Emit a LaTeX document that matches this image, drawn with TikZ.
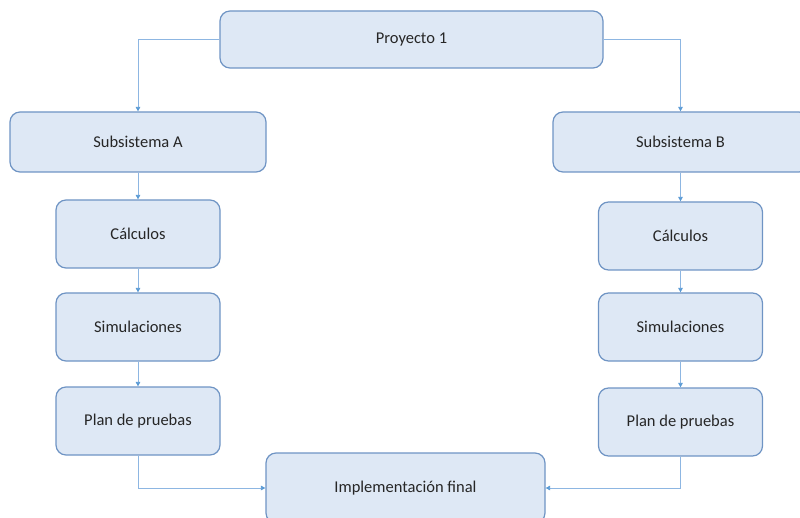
\documentclass[tikz,border=0pt]{standalone}
\usepackage{fontspec}
\setmainfont{Carlito}
\usetikzlibrary{arrows.meta}
\definecolor{boxfill}{HTML}{DEE8F5}
\definecolor{boxline}{HTML}{6F94C4}
\definecolor{linkline}{HTML}{8DB6E2}
\definecolor{tipcol}{HTML}{5B9BD5}
\definecolor{txt}{HTML}{262626}
\tikzset{
  stepbox/.style={draw=boxline, line width=1.2pt, fill=boxfill, rounded corners=10pt,
    text=txt, font=\fontsize{16.5}{20}\selectfont, inner sep=0pt, anchor=center},
  link/.style={draw=linkline, line width=0.8pt,
    -{Triangle[length=4.5pt,width=4.5pt,color=tipcol]}}
}
\begin{document}
\begin{tikzpicture}[x=1pt,y=-1pt]
\useasboundingbox (0,0) rectangle (800,518);
\begin{scope}
\clip (0,0) rectangle (800,518);
% top level
\node[stepbox, minimum width=383pt, minimum height=57pt] (proj) at (411.5,39.5) {Proyecto 1};
% subsystems
\node[stepbox, minimum width=256pt, minimum height=60pt] (subA) at (138,142) {Subsistema A};
\node[stepbox, minimum width=256pt, minimum height=60pt] (subB) at (681,142) {};
\node[text=txt, font=\fontsize{16.5}{20}\selectfont] (subBt) at (680.5,142) {Subsistema B};
% left chain
\node[stepbox, minimum width=164pt, minimum height=68pt] (calA) at (138,234) {Cálculos};
\node[stepbox, minimum width=164pt, minimum height=68pt] (simA) at (138,327) {Simulaciones};
\node[stepbox, minimum width=164pt, minimum height=68pt] (plaA) at (138,421) {Plan de pruebas};
% right chain
\node[stepbox, minimum width=164pt, minimum height=68pt] (calB) at (680.5,236) {Cálculos};
\node[stepbox, minimum width=164pt, minimum height=68pt] (simB) at (680.5,327) {Simulaciones};
\node[stepbox, minimum width=164pt, minimum height=68pt] (plaB) at (680.5,422) {Plan de pruebas};
% final step
\node[stepbox, minimum width=279pt, minimum height=70pt] (impl) at (405.5,488) {Implementación final};
\end{scope}
% connectors
\draw[link] (proj.west) -| (subA.north);
\draw[link] (proj.east) -| (subBt.north |- subB.north);
\draw[link] (subA.south) -- (calA.north);
\draw[link] (calA.south) -- (simA.north);
\draw[link] (simA.south) -- (plaA.north);
\draw[link] (subBt.south |- subB.south) -- (calB.north);
\draw[link] (calB.south) -- (simB.north);
\draw[link] (simB.south) -- (plaB.north);
\draw[link] (plaA.south) |- (impl.west);
\draw[link] (plaB.south) |- (impl.east);
\end{tikzpicture}
\end{document}
